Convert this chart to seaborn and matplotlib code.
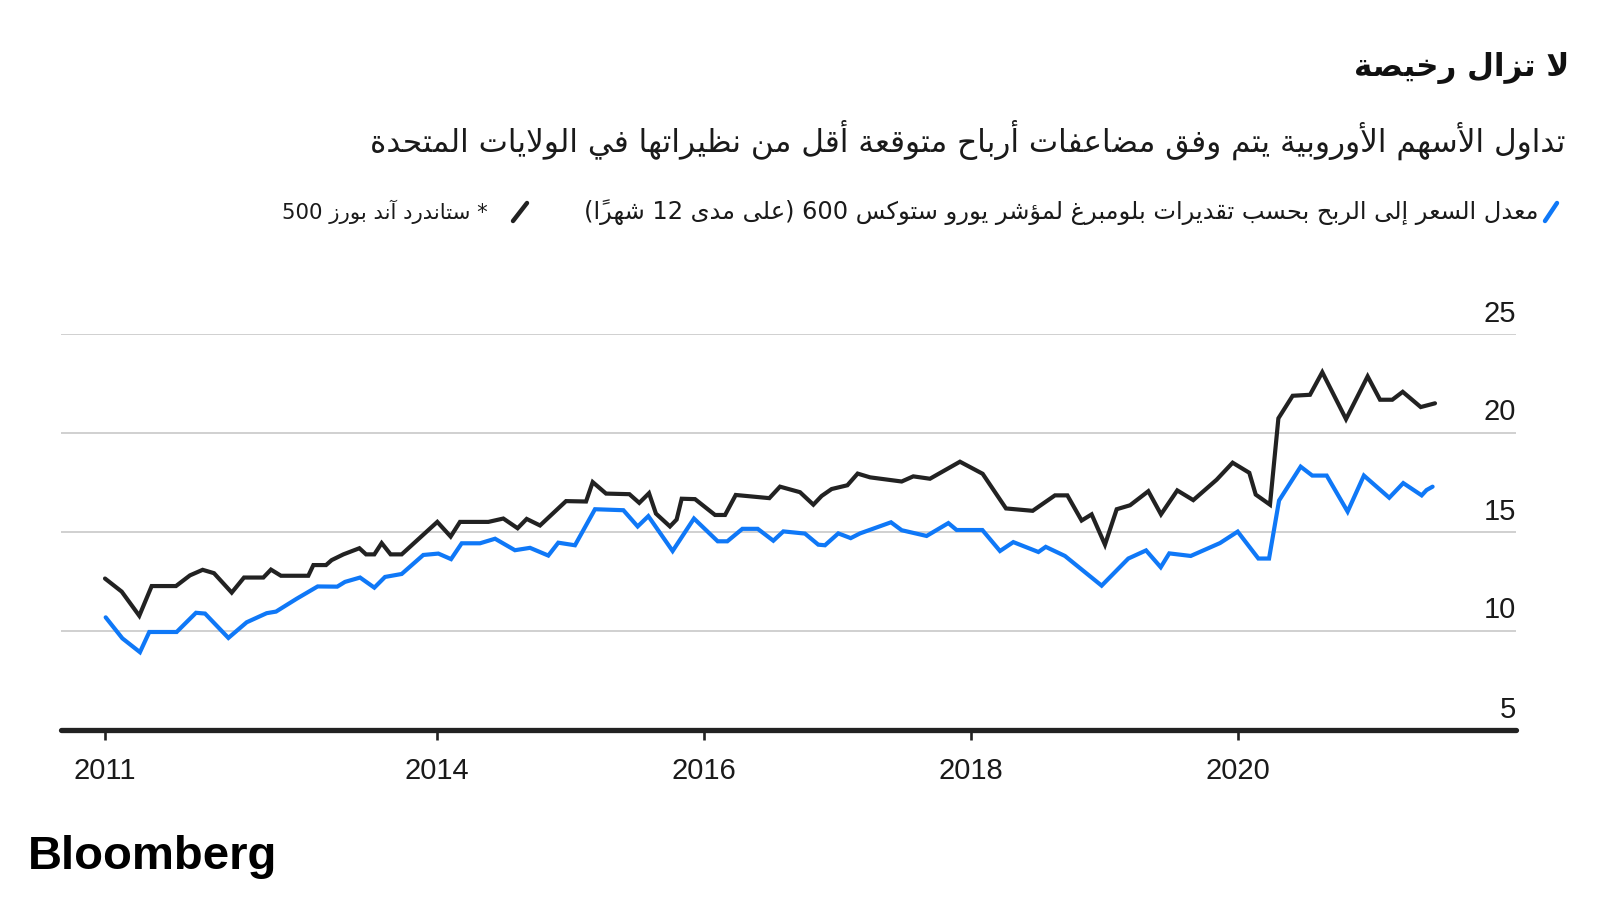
import numpy as np
import pandas as pd
import matplotlib
matplotlib.use("Agg")
import matplotlib.pyplot as plt
from matplotlib.lines import Line2D
import seaborn as sns

# ---------------- data ----------------
SPX_X = [2011.509, 2011.634, 2011.766, 2011.859, 2012.041, 2012.146, 2012.241, 2012.326, 2012.459, 2012.551,
         2012.696, 2012.753, 2012.828, 2013.033, 2013.071, 2013.166, 2013.208, 2013.296, 2013.416, 2013.466,
         2013.528, 2013.583, 2013.650, 2013.733, 2014.000, 2014.100, 2014.170, 2014.383, 2014.495, 2014.602,
         2014.670, 2014.770, 2014.965, 2015.115, 2015.165, 2015.265, 2015.440, 2015.514, 2015.587, 2015.639,
         2015.744, 2015.794, 2015.832, 2015.932, 2016.082, 2016.157, 2016.237, 2016.489, 2016.569, 2016.719,
         2016.819, 2016.881, 2016.956, 2017.074, 2017.151, 2017.244, 2017.481, 2017.568, 2017.693, 2017.918,
         2018.088, 2018.263, 2018.463, 2018.630, 2018.723, 2018.830, 2018.905, 2019.005, 2019.093, 2019.193,
         2019.330, 2019.425, 2019.547, 2019.667, 2019.842, 2019.962, 2020.087, 2020.135, 2020.242, 2020.305,
         2020.412, 2020.542, 2020.634, 2020.812, 2020.974, 2021.067, 2021.159, 2021.237, 2021.372, 2021.479]
SPX_PE = [12.65, 11.99, 10.77, 12.27, 12.27, 12.81, 13.09, 12.92, 11.94, 12.70,
          12.70, 13.10, 12.79, 12.79, 13.33, 13.33, 13.58, 13.87, 14.18, 13.87,
          13.87, 14.44, 13.87, 13.87, 15.51, 14.77, 15.51, 15.51, 15.68, 15.19,
          15.66, 15.33, 16.56, 16.54, 17.52, 16.94, 16.91, 16.47, 16.96, 15.93,
          15.28, 15.63, 16.68, 16.66, 15.86, 15.86, 16.87, 16.71, 17.29, 17.01,
          16.38, 16.82, 17.17, 17.36, 17.95, 17.76, 17.55, 17.81, 17.69, 18.55,
          17.94, 16.19, 16.07, 16.85, 16.85, 15.58, 15.89, 14.36, 16.15, 16.35,
          17.06, 15.89, 17.10, 16.61, 17.64, 18.50, 17.99, 16.89, 16.38, 20.74,
          21.88, 21.93, 23.07, 20.70, 22.86, 21.68, 21.68, 22.08, 21.31, 21.50]

STOXX_X = [2011.514, 2011.639, 2011.771, 2011.841, 2012.046, 2012.191, 2012.259, 2012.434, 2012.571, 2012.721,
           2012.791, 2012.946, 2013.103, 2013.250, 2013.308, 2013.421, 2013.528, 2013.608, 2013.733, 2013.895,
           2014.008, 2014.103, 2014.183, 2014.320, 2014.433, 2014.582, 2014.695, 2014.832, 2014.907, 2015.032,
           2015.182, 2015.395, 2015.502, 2015.582, 2015.764, 2015.924, 2016.102, 2016.174, 2016.287, 2016.402,
           2016.519, 2016.594, 2016.756, 2016.856, 2016.906, 2017.006, 2017.099, 2017.169, 2017.401, 2017.481,
           2017.668, 2017.831, 2017.893, 2018.086, 2018.218, 2018.318, 2018.506, 2018.561, 2018.705, 2018.980,
           2019.180, 2019.313, 2019.423, 2019.487, 2019.648, 2019.867, 2020.000, 2020.155, 2020.235, 2020.310,
           2020.472, 2020.559, 2020.667, 2020.824, 2020.946, 2021.136, 2021.241, 2021.379, 2021.416, 2021.461]
STOXX_PE = [10.69, 9.63, 8.93, 9.95, 9.95, 10.92, 10.88, 9.65, 10.44, 10.90,
            10.98, 11.63, 12.25, 12.24, 12.48, 12.70, 12.19, 12.73, 12.88, 13.84,
            13.91, 13.63, 14.43, 14.43, 14.66, 14.08, 14.20, 13.81, 14.46, 14.33,
            16.15, 16.10, 15.28, 15.80, 14.04, 15.68, 14.53, 14.53, 15.16, 15.16,
            14.56, 15.03, 14.92, 14.36, 14.33, 14.93, 14.69, 14.93, 15.49, 15.09,
            14.80, 15.45, 15.10, 15.10, 14.04, 14.49, 13.99, 14.25, 13.79, 12.29,
            13.66, 14.07, 13.22, 13.92, 13.79, 14.44, 15.02, 13.66, 13.66, 16.59,
            18.30, 17.85, 17.85, 16.03, 17.85, 16.73, 17.47, 16.85, 17.12, 17.29]

X_TICKS = [2011.509, 2014, 2016, 2018, 2020]
X_TICK_LABELS = ["2011", "2014", "2016", "2018", "2020"]
Y_TICKS = [5, 10, 15, 20, 25]

TITLE = "لا تزال رخيصة"
SUBTITLE = "تداول الأسهم الأوروبية يتم وفق مضاعفات أرباح متوقعة أقل من نظيراتها في الولايات المتحدة"
LABEL_STOXX = "معدل السعر إلى الربح بحسب تقديرات بلومبرغ لمؤشر يورو ستوكس 600 (على مدى 12 شهراً)"
LABEL_SPX = "* ستاندرد آند بورز 500"
SOURCE = "Bloomberg"

BLUE = "#0f78f7"
BLACK = "#222222"

# ---------------- simple Arabic shaping + visual ordering ----------------
AR_FORMS = {
    '\u0621': (0xFE80, 1), '\u0622': (0xFE81, 2), '\u0623': (0xFE83, 2), '\u0624': (0xFE85, 2),
    '\u0625': (0xFE87, 2), '\u0626': (0xFE89, 4), '\u0627': (0xFE8D, 2), '\u0628': (0xFE8F, 4),
    '\u0629': (0xFE93, 2), '\u062A': (0xFE95, 4), '\u062B': (0xFE99, 4), '\u062C': (0xFE9D, 4),
    '\u062D': (0xFEA1, 4), '\u062E': (0xFEA5, 4), '\u062F': (0xFEA9, 2), '\u0630': (0xFEAB, 2),
    '\u0631': (0xFEAD, 2), '\u0632': (0xFEAF, 2), '\u0633': (0xFEB1, 4), '\u0634': (0xFEB5, 4),
    '\u0635': (0xFEB9, 4), '\u0636': (0xFEBD, 4), '\u0637': (0xFEC1, 4), '\u0638': (0xFEC5, 4),
    '\u0639': (0xFEC9, 4), '\u063A': (0xFECD, 4), '\u0641': (0xFED1, 4), '\u0642': (0xFED5, 4),
    '\u0643': (0xFED9, 4), '\u0644': (0xFEDD, 4), '\u0645': (0xFEE1, 4), '\u0646': (0xFEE5, 4),
    '\u0647': (0xFEE9, 4), '\u0648': (0xFEED, 2), '\u0649': (0xFEEF, 2), '\u064A': (0xFEF1, 4),
}
LAM_ALEF = {'\u0622': 0xFEF5, '\u0623': 0xFEF7, '\u0625': 0xFEF9, '\u0627': 0xFEFB}


def _is_mark(c):
    return '\u064B' <= c <= '\u0652'


def _shape(text):
    units = []
    for c in text:
        if _is_mark(c) and units:
            units[-1][1].append(c)
        else:
            units.append([c, []])
    merged = []
    i = 0
    while i < len(units):
        c, m = units[i]
        if c == '\u0644' and i + 1 < len(units) and units[i + 1][0] in LAM_ALEF:
            merged.append(['LA' + units[i + 1][0], m + units[i + 1][1]])
            i += 2
        else:
            merged.append([c, m])
            i += 1

    def can_prev(c):
        return c.startswith('LA') or (c in AR_FORMS and AR_FORMS[c][1] >= 2)

    def can_next(c):
        return (not c.startswith('LA')) and c in AR_FORMS and AR_FORMS[c][1] == 4

    res = []
    for i, (c, m) in enumerate(merged):
        prev = merged[i - 1][0] if i > 0 else None
        nxt = merged[i + 1][0] if i + 1 < len(merged) else None
        jp = prev is not None and can_next(prev) and can_prev(c)
        jn = nxt is not None and can_next(c) and can_prev(nxt)
        if c.startswith('LA'):
            g = chr(LAM_ALEF[c[2]] + (1 if jp else 0))
        elif c in AR_FORMS:
            base, n = AR_FORMS[c]
            if n == 4:
                g = chr(base + (3 if (jp and jn) else 1 if jp else 2 if jn else 0))
            elif n == 2:
                g = chr(base + (1 if jp else 0))
            else:
                g = chr(base)
        else:
            g = c
        res.append(g + ''.join(m))
    return res


def ar(text):
    clusters = _shape(text)
    runs = []
    for cl in clusters:
        isd = cl.isascii() and cl.isdigit()
        if runs and runs[-1][0] == isd:
            runs[-1][1].append(cl)
        else:
            runs.append([isd, [cl]])
    out = []
    for isd, cls in reversed(runs):
        out.extend(cls if isd else reversed(cls))
    mirror = {'(': ')', ')': '('}
    return ''.join(mirror.get(ch, ch) for ch in ''.join(out))


# ---------------- figure ----------------
sns.set_theme(style="white")
plt.rcParams['font.family'] = ['Liberation Sans', 'DejaVu Sans']

W, H = 1600, 900
fig = plt.figure(figsize=(16, 9), dpi=100)
fig.patch.set_facecolor("white")

x_left, x_right, y_bot, y_top = 61, 1516, 730, 334
ax = fig.add_axes([x_left / W, 1 - y_bot / H, (x_right - x_left) / W, (y_bot - y_top) / H])
ax.set_facecolor("white")

df = pd.concat([
    pd.DataFrame({"date": SPX_X, "pe": SPX_PE, "series": "spx"}),
    pd.DataFrame({"date": STOXX_X, "pe": STOXX_PE, "series": "stoxx"}),
], ignore_index=True)

sns.lineplot(data=df, x="date", y="pe", hue="series", palette={"spx": BLACK, "stoxx": BLUE},
             estimator=None, sort=False, linewidth=3.0, legend=False, ax=ax)
for ln in ax.lines:
    ln.set_solid_joinstyle("miter")
    ln.set_solid_capstyle("round")

px_per_year = 133.4
x0 = 2014 - (437.3 - x_left) / px_per_year
x1 = 2014 + (x_right - 437.3) / px_per_year
ax.set_xlim(x0, x1)
ax.set_ylim(5, 25)

for s in ax.spines.values():
    s.set_visible(False)

ax.set_yticks(Y_TICKS)
ax.tick_params(axis="y", left=False, right=False, labelleft=False)
ax.grid(axis="y", color="#c4c4c4", linewidth=1.1)
ax.grid(axis="x", visible=False)
ax.axhline(5, color=BLACK, linewidth=3.8, solid_capstyle="round", clip_on=False, zorder=5)

for v in Y_TICKS:
    ax.annotate(str(v), xy=(1.0, v), xycoords=("axes fraction", "data"),
                xytext=(0, 9), textcoords="offset points", ha="right", va="baseline",
                fontsize=21, color="#1a1a1a", family=["Liberation Sans"])

ax.set_xticks(X_TICKS)
ax.set_xticklabels(X_TICK_LABELS)
ax.tick_params(axis="x", bottom=True, direction="out", length=7.5, width=1.9, color=BLACK,
               pad=12, labelsize=21, labelcolor="#1a1a1a")
ax.set_xlabel("")
ax.set_ylabel("")

# ---------------- texts ----------------
AR_FONT = ["DejaVu Sans"]

t_title = fig.text(1569 / W, 1 - 68 / H, ar(TITLE), ha="right", va="center", fontsize=26,
                   fontweight="bold", family=AR_FONT, color="#111111")
t_sub = fig.text(1566 / W, 1 - 140 / H, ar(SUBTITLE), ha="right", va="center", fontsize=20,
                 family=AR_FONT, color="#1a1a1a")
t_l1 = fig.text(1539 / W, 1 - 212 / H, ar(LABEL_STOXX), ha="right", va="center", fontsize=17,
                family=AR_FONT, color="#1a1a1a")
t_l2 = fig.text(488 / W, 1 - 212 / H, ar(LABEL_SPX), ha="right", va="center", fontsize=17,
                family=AR_FONT, color="#1a1a1a")
t_src = fig.text(28 / W, 1 - 857 / H, SOURCE, ha="left", va="center", fontsize=32,
                 fontweight="bold", family=["Liberation Sans"], color="#000000")

fig.add_artist(Line2D([1545 / W, 1557 / W], [1 - 221 / H, 1 - 203 / H], transform=fig.transFigure,
                      color=BLUE, linewidth=3.2, solid_capstyle="round"))
fig.add_artist(Line2D([513 / W, 527 / W], [1 - 221 / H, 1 - 203 / H], transform=fig.transFigure,
                      color=BLACK, linewidth=3.2, solid_capstyle="round"))

# fit text widths to the reference layout
fig.canvas.draw()
renderer = fig.canvas.get_renderer()
for t, target in [(t_title, 216), (t_sub, 1194), (t_l1, 955), (t_l2, 207), (t_src, 250)]:
    w = t.get_window_extent(renderer).width
    if w > 0:
        t.set_fontsize(t.get_fontsize() * target / w)

fig.savefig("out.png", dpi=100, facecolor="white")
